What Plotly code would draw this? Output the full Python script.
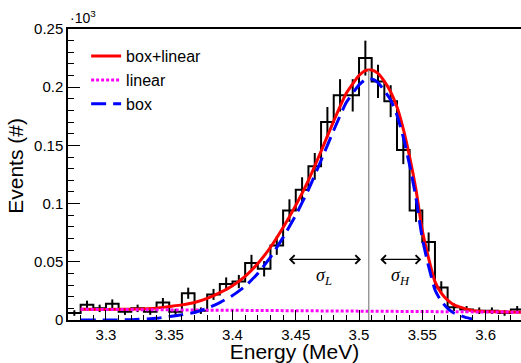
import plotly.graph_objects as go

# ---------------- data (values in units of 10^3 events) ----------------
bin_edges = [3.27, 3.28, 3.29, 3.30, 3.31, 3.32, 3.33, 3.34, 3.35, 3.36, 3.37, 3.38,
             3.39, 3.40, 3.41, 3.42, 3.43, 3.44, 3.45, 3.46, 3.47, 3.48, 3.49, 3.50,
             3.51, 3.52, 3.53, 3.54, 3.55, 3.56, 3.57, 3.58, 3.59, 3.60, 3.61, 3.62, 3.63]
counts = [0.006, 0.013, 0.010, 0.014, 0.007, 0.010, 0.007, 0.015, 0.007, 0.023, 0.008, 0.022,
          0.031, 0.033, 0.049, 0.044, 0.064, 0.094, 0.112, 0.132, 0.170, 0.193, 0.193, 0.225,
          0.205, 0.188, 0.146, 0.094, 0.067, 0.028, 0.011, 0.009, 0.008, 0.008, 0.006, 0.009]
count_errors = [0.0024, 0.0036, 0.0032, 0.0037, 0.0026, 0.0032, 0.0026, 0.0039, 0.0026, 0.0048, 0.0028, 0.0047,
                0.0056, 0.0057, 0.0070, 0.0066, 0.0080, 0.0097, 0.0106, 0.0115, 0.0130, 0.0139, 0.0139, 0.0150,
                0.0143, 0.0137, 0.0121, 0.0097, 0.0082, 0.0053, 0.0033, 0.0030, 0.0028, 0.0028, 0.0024, 0.0030]

fit_x = [3.28, 3.30, 3.32, 3.34, 3.35, 3.36, 3.37, 3.38, 3.39, 3.40, 3.41, 3.42, 3.43, 3.44,
         3.45, 3.46, 3.47, 3.48, 3.49, 3.50, 3.505, 3.51, 3.515, 3.52, 3.525, 3.53, 3.535, 3.54,
         3.545, 3.55, 3.555, 3.56, 3.565, 3.57, 3.575, 3.58, 3.585, 3.59, 3.60, 3.61, 3.628]
fit_y = [0.0092, 0.0091, 0.0093, 0.0102, 0.0116, 0.0130, 0.0150, 0.0185, 0.0235, 0.0295, 0.0375,
         0.0485, 0.0625, 0.0795, 0.0985, 0.120, 0.145, 0.171, 0.195, 0.210, 0.2143, 0.2148, 0.2118,
         0.205, 0.196, 0.183, 0.164, 0.140, 0.112, 0.077, 0.053, 0.033, 0.023, 0.017, 0.013, 0.011,
         0.0092, 0.0080, 0.0073, 0.0070, 0.0067]

box_x = [3.28, 3.30, 3.32, 3.34, 3.35, 3.36, 3.37, 3.38, 3.39, 3.40, 3.41, 3.42, 3.43, 3.44,
         3.45, 3.46, 3.47, 3.48, 3.49, 3.50, 3.505, 3.51, 3.515, 3.52, 3.525, 3.53, 3.535, 3.54,
         3.545, 3.55, 3.555, 3.56, 3.565, 3.57, 3.575, 3.58, 3.585, 3.59]
box_y = [0.0, 0.0, 0.0003, 0.0015, 0.003, 0.0045, 0.0065, 0.010, 0.015, 0.021, 0.029, 0.040,
         0.054, 0.071, 0.090, 0.112, 0.137, 0.163, 0.187, 0.202, 0.2065, 0.207, 0.204, 0.197,
         0.189, 0.176, 0.157, 0.133, 0.105, 0.070, 0.046, 0.026, 0.016, 0.010, 0.006, 0.004,
         0.002, 0.0008]

linear_x = [3.28, 3.628]
linear_y = [0.0092, 0.0067]

mean_energy = 3.5077
mean_line_top = 0.215
sigma_L_range = [3.4434, 3.5016]
sigma_H_range = [3.5156, 3.5492]
arrow_level = 0.052
sigma_label_level = 0.037

x_tick_vals = [3.3, 3.35, 3.4, 3.45, 3.5, 3.55, 3.6]
x_tick_text = ["3.3", "3.35", "3.4", "3.45", "3.5", "3.55", "3.6"]
y_tick_vals = [0, 0.05, 0.1, 0.15, 0.2, 0.25]
y_tick_text = ["0", "0.05", "0.1", "0.15", "0.2", "0.25"]

# ---------------- figure ----------------
bin_centers = [(a + b) / 2 for a, b in zip(bin_edges[:-1], bin_edges[1:])]
step_y = counts + [counts[-1]]

fig = go.Figure()

# histogram step outline
fig.add_trace(go.Scatter(x=bin_edges, y=step_y, mode="lines", line=dict(color="black", width=2, shape="hv"),
                         showlegend=False, hoverinfo="skip"))
# error bars
fig.add_trace(go.Scatter(x=bin_centers, y=counts, mode="markers", marker=dict(size=0.1, color="black"),
                         error_y=dict(type="data", array=count_errors, visible=True, color="black",
                                      thickness=2, width=0),
                         showlegend=False, hoverinfo="skip"))

fig.add_trace(go.Scatter(x=fit_x, y=fit_y, mode="lines", name="box+linear",
                         line=dict(color="#ff0000", width=3, shape="spline", smoothing=0.5)))
fig.add_trace(go.Scatter(x=linear_x, y=linear_y, mode="lines", name="linear",
                         line=dict(color="#ff00ff", width=3, dash="3px,2px")))
fig.add_trace(go.Scatter(x=box_x, y=box_y, mode="lines", name="box",
                         line=dict(color="#0000ff", width=3, dash="15px,7px", shape="spline", smoothing=0.5)))

# vertical mean line
fig.add_shape(type="line", x0=mean_energy, x1=mean_energy, y0=0, y1=mean_line_top,
              xref="x", yref="y", line=dict(color="#808080", width=1.2), layer="above")

# double-headed arrows
for rng in (sigma_L_range, sigma_H_range):
    fig.add_annotation(x=rng[1], y=arrow_level, ax=rng[0], ay=arrow_level, xref="x", yref="y",
                       axref="x", ayref="y", text="", showarrow=True, arrowside="end+start",
                       arrowhead=4, startarrowhead=4, arrowsize=1.3, startarrowsize=1.3,
                       arrowwidth=1.3, arrowcolor="black")

fig.add_annotation(x=(sigma_L_range[0] + sigma_L_range[1]) / 2, y=sigma_label_level, xref="x", yref="y",
                   text="<i>σ<sub>L</sub></i>", showarrow=False,
                   font=dict(family="Liberation Serif", size=18, color="black"))
fig.add_annotation(x=(sigma_H_range[0] + sigma_H_range[1]) / 2, y=sigma_label_level, xref="x", yref="y",
                   text="<i>σ<sub>H</sub></i>", showarrow=False,
                   font=dict(family="Liberation Serif", size=18, color="black"))

# exponent label
fig.add_annotation(x=0, y=1, xref="paper", yref="paper", xanchor="left", yanchor="bottom",
                   text="·10<sup>3</sup>", showarrow=False, xshift=0, yshift=1,
                   font=dict(family="Liberation Sans", size=14, color="black"))

# y title
fig.add_annotation(x=0, y=0.53, xref="paper", yref="paper", text="Events (#)", textangle=-90,
                   showarrow=False, xanchor="center", yanchor="middle", xshift=-52,
                   font=dict(family="Liberation Sans", size=21, color="black"))

fig.update_layout(
    width=521, height=363,
    margin=dict(l=68, r=0, t=29, b=43),
    paper_bgcolor="white", plot_bgcolor="white",
    font=dict(family="Liberation Sans", size=16, color="black"),
    legend=dict(x=0.04, y=0.965, xanchor="left", yanchor="top", bgcolor="rgba(255,255,255,0)",
                borderwidth=0, font=dict(size=16), itemwidth=30, tracegroupgap=0),
    xaxis=dict(range=[3.27, 3.628], showgrid=False, zeroline=False, showline=True, linecolor="black",
               linewidth=1.5, mirror=True, ticks="inside", ticklen=10, tickwidth=1, tickcolor="black",
               tickvals=x_tick_vals, ticktext=x_tick_text, tickfont=dict(size=15),
               minor=dict(ticks="inside", ticklen=5, tickwidth=1, tickcolor="black", dtick=0.01, tick0=3.27, showgrid=False),
               title=dict(text="Energy (MeV)", font=dict(size=21), standoff=7), automargin=False),
    yaxis=dict(range=[0, 0.25], showgrid=False, zeroline=False, showline=True, linecolor="black",
               linewidth=1.5, mirror=False, ticks="inside", ticklen=12, tickwidth=1, tickcolor="black",
               tickvals=y_tick_vals, ticktext=y_tick_text, tickfont=dict(size=15),
               minor=dict(ticks="inside", ticklen=6, tickwidth=1, tickcolor="black", dtick=0.01, tick0=0, showgrid=False),
               automargin=False),
)

fig.write_html("out.html", config={"displayModeBar": False},
               post_script="document.body.style.margin='0';document.body.style.overflow='hidden';")
